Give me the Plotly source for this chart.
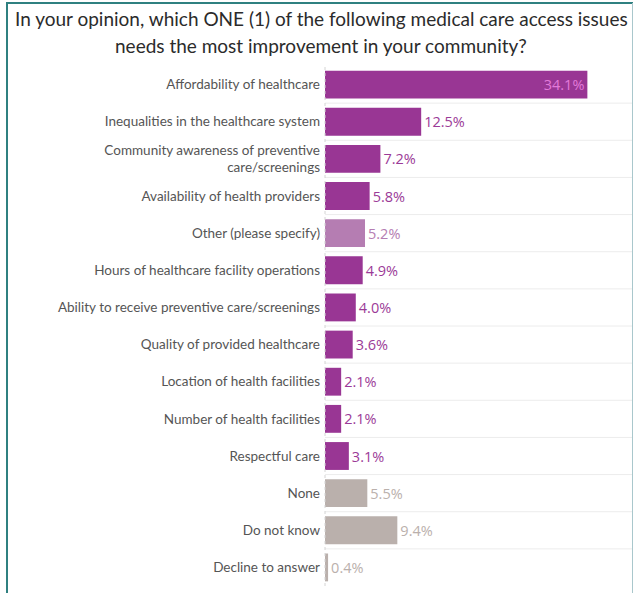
import plotly.graph_objects as go

# Survey responses: share of respondents choosing each issue (%)
categories = [
    "Affordability of healthcare",
    "Inequalities in the healthcare system",
    "Community awareness of preventive<br>care/screenings",
    "Availability of health providers",
    "Other (please specify)",
    "Hours of healthcare facility operations",
    "Ability to receive preventive care/screenings",
    "Quality of provided healthcare",
    "Location of health facilities",
    "Number of health facilities",
    "Respectful care",
    "None",
    "Do not know",
    "Decline to answer",
]
values = [34.1, 12.5, 7.2, 5.8, 5.2, 4.9, 4.0, 3.6, 2.1, 2.1, 3.1, 5.5, 9.4, 0.4]
groups = ["issue"] * 4 + ["other"] + ["issue"] * 6 + ["nonresponse"] * 3

title_lines = [
    "In your opinion, which ONE (1) of the following medical care access issues",
    "needs the most improvement in your community?",
]

bar_colors = {"issue": "#993694", "other": "#b57db2", "nonresponse": "#bab0ac"}
label_colors = {"issue": "#9b3a97", "other": "#b57db2", "nonresponse": "#bab0ac"}
inside_label_color = "#e27ad9"

W, H = 635, 593
ML, MR, MT, MB = 325, 3, 66, 7
PW, PH = W - ML - MR, H - MT - MB

n = len(categories)
idx = list(range(n))
x_max = 39.9

text = [f"{v:.1f}%" for v in values]
# the widest bar carries its label inside, the rest sit just past the bar end
positions = ["inside" if v == max(values) else "outside" for v in values]
tcolors = [inside_label_color if p == "inside" else label_colors[g]
           for p, g in zip(positions, groups)]

fig = go.Figure(
    go.Bar(
        x=values,
        y=idx,
        orientation="h",
        width=0.75,
        marker=dict(color=[bar_colors[g] for g in groups], line=dict(width=0)),
        text=text,
        textposition=positions,
        insidetextanchor="end",
        textfont=dict(color=tcolors, size=14.5, family="Open Sans", weight=500),
        cliponaxis=False,
        hoverinfo="skip",
    )
)


def px_x(p):
    return (p - ML) / PW


def px_y(p):
    return (H - MB - p) / PH


shapes = []
# row separators
for i in range(n - 1):
    shapes.append(dict(type="line", xref="paper", yref="y", x0=0, x1=1,
                       y0=i + 0.5, y1=i + 0.5,
                       line=dict(color="#ececec", width=1)))
# dotted baseline
shapes.append(dict(type="line", xref="paper", yref="paper", x0=0, x1=0,
                   y0=0, y1=1, line=dict(color="#d4d4d4", width=1, dash="dot")))
# frame
shapes.append(dict(type="line", xref="paper", yref="paper",
                   x0=px_x(7), x1=px_x(7), y0=px_y(3), y1=px_y(H + 5),
                   line=dict(color="#2f8080", width=2)))
shapes.append(dict(type="line", xref="paper", yref="paper",
                   x0=px_x(6), x1=px_x(633), y0=px_y(3), y1=px_y(3),
                   line=dict(color="#2f8080", width=2)))
shapes.append(dict(type="line", xref="paper", yref="paper",
                   x0=px_x(632.5), x1=px_x(632.5), y0=px_y(3), y1=px_y(H + 5),
                   line=dict(color="#a9c7cc", width=1)))

annotations = []
for k, line in enumerate(title_lines):
    annotations.append(dict(
        text=line, xref="paper", yref="paper",
        x=px_x(321), y=px_y(18 + 28 * k),
        xanchor="center", yanchor="middle", showarrow=False,
        font=dict(family="Lato", size=19, color="#2b2b2b"),
    ))

fig.update_layout(
    width=W, height=H,
    margin=dict(l=ML, r=MR, t=MT, b=MB),
    paper_bgcolor="white", plot_bgcolor="white",
    showlegend=False,
    shapes=shapes,
    annotations=annotations,
    font=dict(family="Lato", size=13.5, color="#555555"),
    xaxis=dict(range=[0, x_max], showgrid=False, zeroline=False,
               showticklabels=False, ticks="", fixedrange=True),
    yaxis=dict(range=[n - 0.5, -0.5], tickmode="array", tickvals=idx,
               ticktext=categories, showgrid=False, zeroline=False,
               ticks="", ticklabelstandoff=4,
               tickfont=dict(family="Lato", size=13.5, color="#555555"),
               fixedrange=True),
)

fig.write_html("out.html")
